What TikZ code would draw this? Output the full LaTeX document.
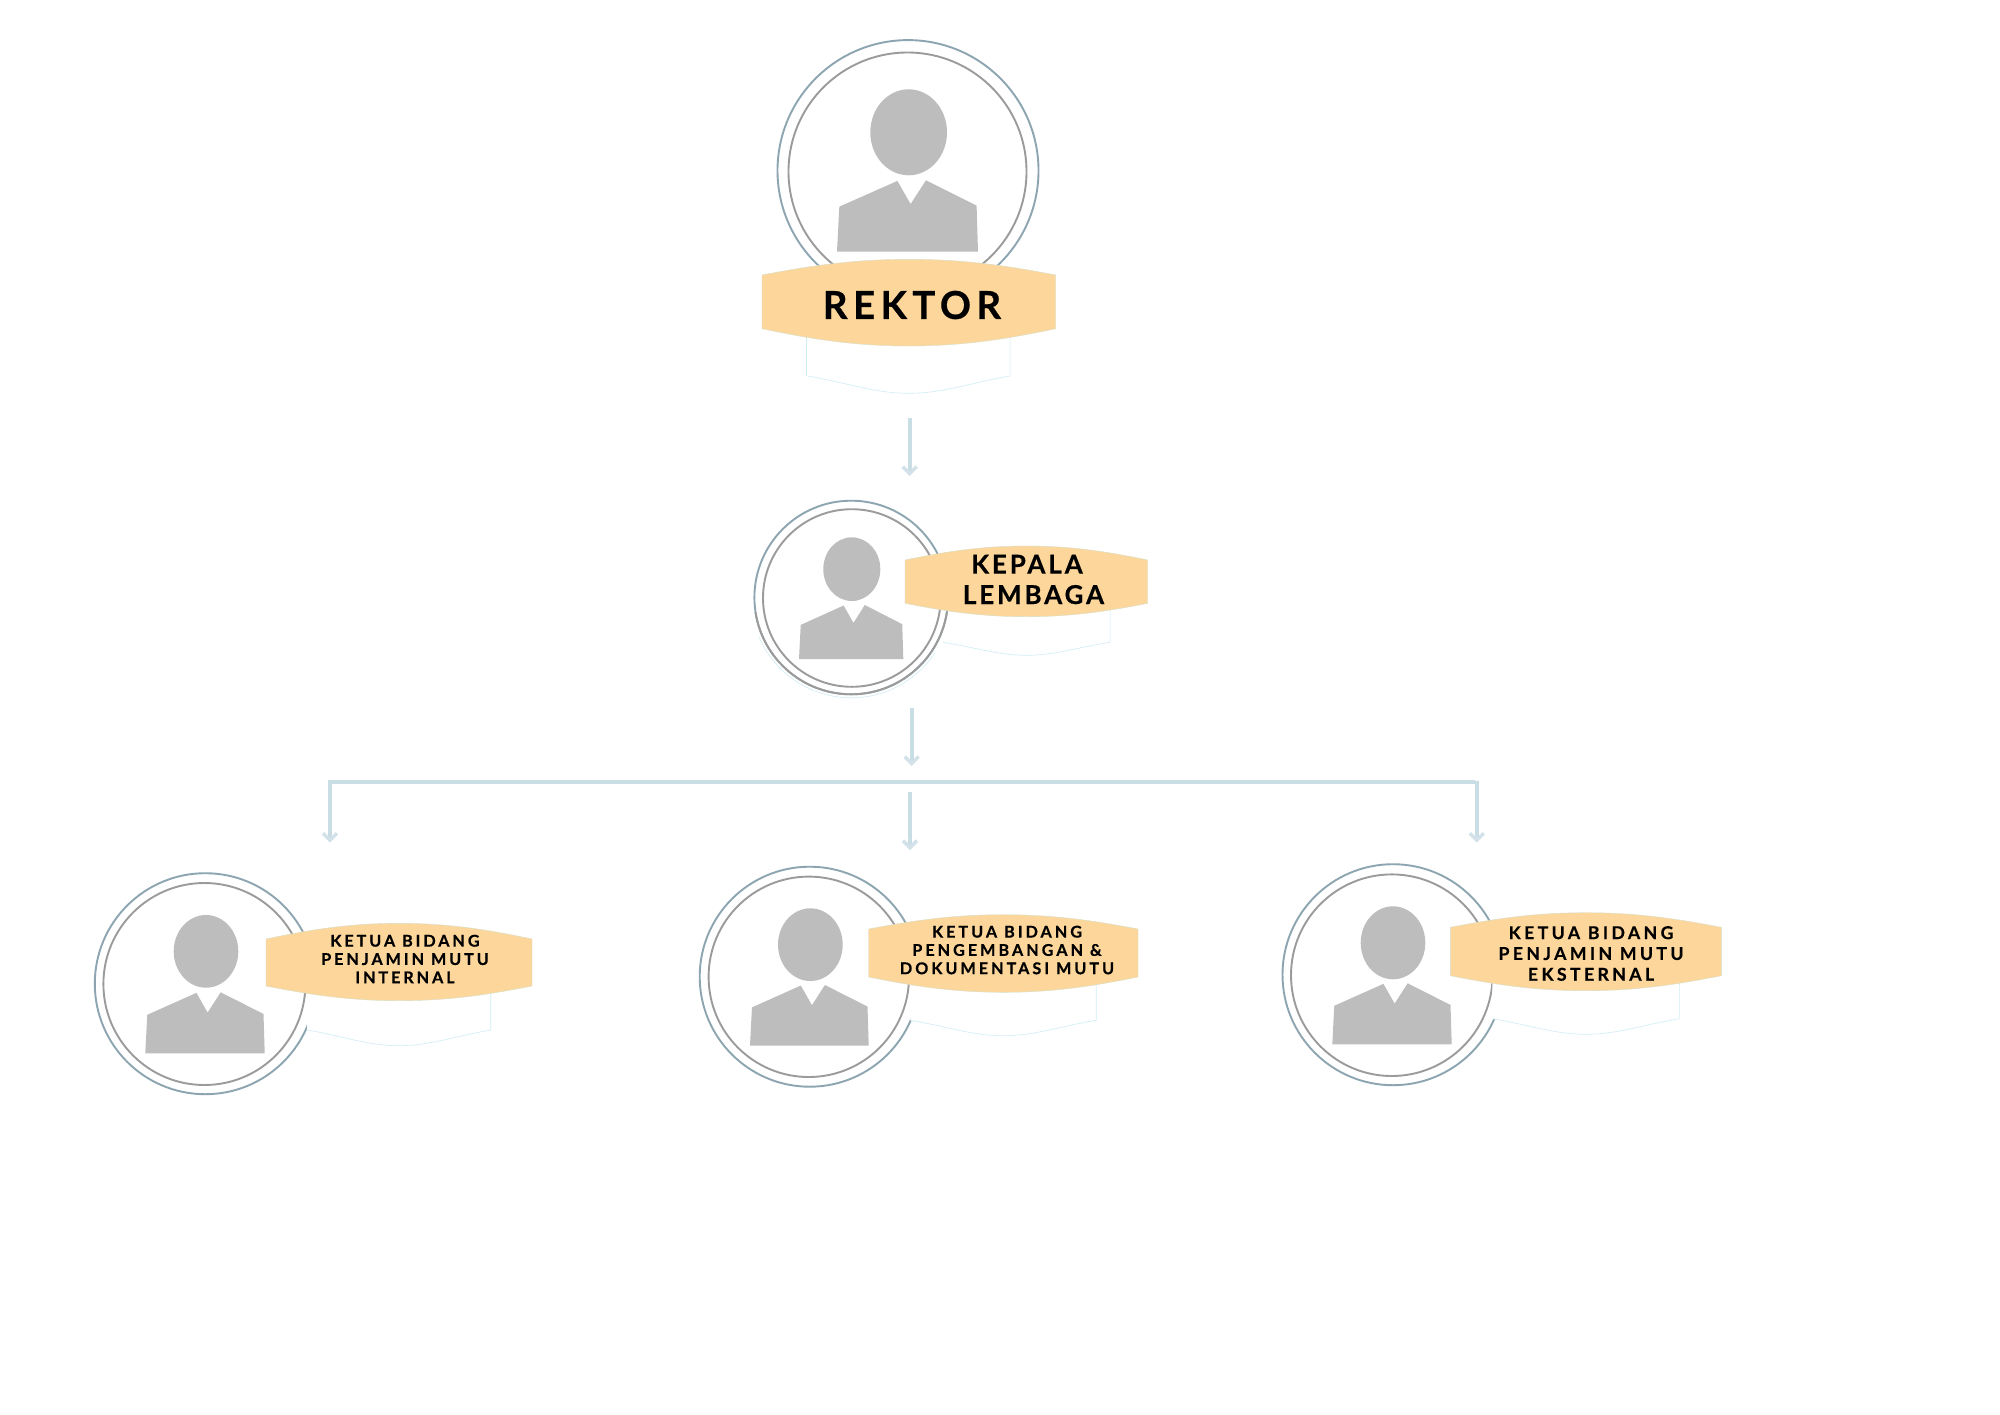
\documentclass[tikz,border=0pt]{standalone}
\usepackage{fontspec}
\usetikzlibrary{arrows.meta}
\setmainfont{Lato}
\definecolor{bannerfill}{HTML}{FDD69B}
\definecolor{bannerrim}{HTML}{D5DFC8}
\definecolor{ringout}{HTML}{8DA5B0}
\definecolor{ringin}{HTML}{9B9B9B}
\definecolor{figgrey}{HTML}{BDBDBD}
\definecolor{linkblue}{HTML}{C9DDE5}
\definecolor{tipblue}{HTML}{D3E1E8}
\definecolor{shadowline}{HTML}{CFEDF5}
\tikzset{
  outerring/.style={circle,draw=ringout,line width=1.9pt,fill=white,inner sep=0pt,outer sep=0pt},
  innerring/.style={circle,draw=ringin,line width=1.9pt,inner sep=0pt,outer sep=0pt},
  bannerface/.style={fill=bannerfill,draw=bannerrim,line width=0.4pt},
  underlay/.style={draw=shadowline,line width=0.6pt},
  figure part/.style={fill=figgrey,draw=none},
  labeltext/.style={inner sep=0pt,outer sep=0pt,align=center,text=black},
  linkline/.style={draw=linkblue,line width=3.8pt},
  linkarrow/.style={linkline,-{Straight Barb[length=7pt,width=14pt,line width=3.4pt,color=tipblue]}}
}
\newcommand{\labelfont}[3]{\bfseries\fontsize{#1}{#2}\selectfont\addfontfeature{LetterSpace=#3,FakeBold=0.5}}
% ring: name, outer cx, cy, r, inner cx, cy, r
\newcommand{\ringset}[7]{%
  \node[outerring,minimum size=#4*2pt] (#1o) at (#2,#3) {};
  \node[innerring,minimum size=#7*2pt] (#1i) at (#5,#6) {};
}
% silhouette: head x0 x1 y0 y1, body x0 x1 y0 y1
\newcommand{\silhouette}[8]{%
  \pgfmathsetmacro{\hcx}{(#1+#2)/2}\pgfmathsetmacro{\hcy}{(#3+#4)/2}
  \pgfmathsetmacro{\hrx}{(#2-#1)/2}\pgfmathsetmacro{\hry}{(#4-#3)/2}
  \fill[figure part] (\hcx,\hcy) ellipse [x radius=\hrx,y radius=\hry];
  \pgfmathsetmacro{\bw}{#6-#5}\pgfmathsetmacro{\bh}{#8-#7}
  \fill[figure part]
    ({#5+0.0165*\bw},{#7+0.369*\bh}) -- ({#5+0.428*\bw},{#7+0.009*\bh})
    -- ({#5+0.522*\bw},{#7+0.332*\bh}) -- ({#5+0.631*\bw},#7)
    -- ({#5+0.99*\bw},{#7+0.355*\bh}) -- (#6,#8) -- (#5,#8) -- cycle;
}
% underlay: L R cornerbottom shadowcorner shadowbottom
\newcommand{\underlayshape}[5]{%
  \pgfmathsetmacro{\bnw}{#2-#1}\pgfmathsetmacro{\mx}{(#1+#2)/2}
  \pgfmathsetmacro{\sL}{\mx-0.345*\bnw}\pgfmathsetmacro{\sR}{\mx+0.345*\bnw}
  \pgfmathsetmacro{\sw}{\sR-\sL}
  \fill[white] (\sL,#3) -- (\sL,#4)
    .. controls ({\sL+0.2*\sw},{#4+0.4*(#5-#4)}) and ({\sL+0.33*\sw},#5) .. (\mx,#5)
    .. controls ({\sR-0.33*\sw},#5) and ({\sR-0.2*\sw},{#4+0.4*(#5-#4)}) .. (\sR,#4)
    -- (\sR,#3) -- cycle;
  \draw[underlay] (\sL,#4)
    .. controls ({\sL+0.2*\sw},{#4+0.4*(#5-#4)}) and ({\sL+0.33*\sw},#5) .. (\mx,#5)
    .. controls ({\sR-0.33*\sw},#5) and ({\sR-0.2*\sw},{#4+0.4*(#5-#4)}) .. (\sR,#4)
    -- (\sR,#3);
}
\newcommand{\bannershape}[6]{%
  \pgfmathsetmacro{\bnw}{#2-#1}\pgfmathsetmacro{\mx}{(#1+#2)/2}
  \filldraw[bannerface] (#1,#4)
    .. controls ({#1+0.15*\bnw},{#4+0.53*(#3-#4)}) and ({#1+0.30*\bnw},#3) .. (\mx,#3)
    .. controls ({#2-0.30*\bnw},#3) and ({#2-0.15*\bnw},{#4+0.53*(#3-#4)}) .. (#2,#4)
    -- (#2,#5)
    .. controls ({#2-0.15*\bnw},{#5+0.53*(#6-#5)}) and ({#2-0.30*\bnw},#6) .. (\mx,#6)
    .. controls ({#1+0.30*\bnw},#6) and ({#1+0.15*\bnw},{#5+0.53*(#6-#5)}) .. (#1,#5)
    -- cycle;
}
\begin{document}
\begin{tikzpicture}[x=1pt,y=-1pt]
\useasboundingbox[fill=white] (0,0) rectangle (2000,1414);

% REKTOR
\ringset{rek}{908}{170.6}{130.5}{907.5}{171.5}{119}
\underlayshape{762}{1055.7}{328.7}{376}{393.3}
\draw[underlay] (806.7,336) -- (806.7,376);
\silhouette{870.3}{947}{89.3}{175.3}{837}{978}{180.3}{251.7}
\bannershape{762}{1055.7}{259.3}{275}{328.7}{346}
\node[labeltext,font=\labelfont{38.5}{44}{14}] (rektor) at (912,305) {REKTOR};

% KEPALA LEMBAGA (its shadow passes behind the rings)
\underlayshape{905}{1147.7}{603.3}{642.3}{655.3}
\ringset{kep}{851.2}{597.5}{96.8}{851.8}{598}{88.8}
\begin{scope}
  \clip (750,612) rectangle (960,705);
  \draw[ringin,line width=1.9pt] (kepo.center) circle [radius=96.8];
\end{scope}
\begin{scope}
  \clip (750,637) rectangle (935,705);
  \draw[underlay] (kepo.center) circle [radius=100.3];
\end{scope}
\silhouette{823.3}{880.3}{537.3}{601}{799}{903.3}{605}{659}
\bannershape{905}{1147.7}{546}{560}{603.3}{616.7}
\node[labeltext,font=\labelfont{26}{30.4}{11}] (kepala) at (1033.5,579.5) {KEPALA\kern13pt\\LEMBAGA};

% KETUA 1
\ringset{int}{205.3}{983.7}{110.5}{204.4}{984}{101}
\underlayshape{266}{532}{986}{1030}{1045.7}
\silhouette{173.7}{238.3}{915}{987.7}{145.3}{264.7}{992.3}{1053.3}
\bannershape{266}{532}{923.3}{939}{986}{1000.7}
\node[labeltext,font=\labelfont{16.2}{18.3}{18}] (intern) at (405,959) {KETUA BIDANG\\PENJAMIN MUTU\\INTERNAL};

% KETUA 2
\ringset{dok}{809.7}{976.7}{110}{808.8}{976.8}{100.2}
\underlayshape{868.7}{1138}{977}{1020.3}{1035.7}
\silhouette{778}{842.7}{908.3}{981}{750}{868.7}{985}{1045.7}
\bannershape{868.7}{1138}{914.7}{929}{977}{992.3}
\node[labeltext,font=\labelfont{16.2}{18.3}{18.5}] (dokum) at (1007,950) {KETUA BIDANG\\PENGEMBANGAN \&\\DOKUMENTASI MUTU};

% KETUA 3
\ringset{eks}{1393}{974.7}{110.5}{1391.8}{975.2}{100.8}
\underlayshape{1450.3}{1721.3}{975.7}{1018.7}{1034.3}
\silhouette{1360.7}{1425.3}{906.3}{979.3}{1332.3}{1451.7}{983.3}{1044.3}
\bannershape{1450.3}{1721.3}{912.7}{927.3}{975.7}{990.7}
\node[labeltext,font=\labelfont{17.7}{20.8}{19}] (ekste) at (1591,953.5) {KETUA BIDANG\\PENJAMIN MUTU\\EKSTERNAL};

% connectors
\coordinate (a1s) at (909.7,417.5);
\coordinate (a1e) at (909.7,476);
\coordinate (a2s) at (911.7,708);
\coordinate (a2e) at (911.7,766);
\coordinate (a3s) at (910,791.5);
\coordinate (a3e) at (910,850);
\coordinate (barl) at (328,782);
\coordinate (barr) at (1475,782);
\coordinate (dls) at (330,780.5);
\coordinate (dle) at (330,842.7);
\coordinate (drs) at (1476.7,780.5);
\coordinate (dre) at (1476.7,842.7);
\draw[linkarrow] (a1s) -- (a1e);
\draw[linkarrow] (a2s) -- (a2e);
\draw[linkarrow] (a3s) -- (a3e);
\draw[linkline] (barl) -- (barr);
\draw[linkarrow] (dls) -- (dle);
\draw[linkarrow] (drs) -- (dre);
\end{tikzpicture}
\end{document}
